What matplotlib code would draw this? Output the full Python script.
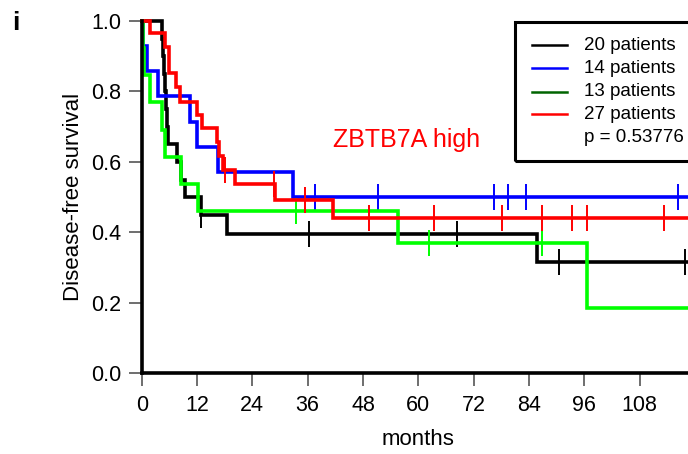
import matplotlib
matplotlib.use("Agg")
import matplotlib.pyplot as plt
from matplotlib.lines import Line2D
from matplotlib.patches import Rectangle

plt.rcParams['font.family'] = ['Liberation Sans', 'DejaVu Sans']

# survival steps (months, survival)
black_t = [0, 4.4, 4.6, 4.9, 5.1, 5.3, 5.5, 5.7, 7.6, 8.6, 9.4, 12.8, 18.5, 85.7]
black_s = [1.0, 0.95, 0.90, 0.85, 0.80, 0.75, 0.70, 0.65, 0.60, 0.55, 0.50, 0.45, 0.394, 0.315]
black_ct = [12.9, 36.3, 68.4, 90.5, 117.8]
black_cs = [0.45, 0.394, 0.394, 0.315, 0.315]

blue_t = [0, 0.3, 1.2, 3.5, 10.5, 11.9, 16.6, 32.9]
blue_s = [1.0, 0.929, 0.857, 0.786, 0.714, 0.643, 0.571, 0.5]
blue_ct = [37.7, 51.3, 76.5, 79.5, 83.3, 116.4]
blue_cs = [0.5, 0.5, 0.5, 0.5, 0.5, 0.5]

green_t = [0, 0.3, 0.6, 1.9, 4.4, 5.05, 8.6, 12.3, 55.7, 96.5]
green_s = [1.0, 0.923, 0.846, 0.769, 0.692, 0.615, 0.538, 0.4615, 0.369, 0.185]
green_ct = [33.5, 62.3, 86.9]
green_cs = [0.4615, 0.369, 0.369]

red_t = [0, 1.8, 5.05, 5.9, 7.4, 8.3, 11.9, 13.0, 16.3, 16.8, 17.7, 20.2, 29.0, 41.6]
red_s = [1.0, 0.965, 0.927, 0.852, 0.814, 0.771, 0.733, 0.695, 0.657, 0.617, 0.577, 0.537, 0.492, 0.442]
red_ct = [18.1, 28.8, 35.4, 49.2, 63.3, 78.1, 86.9, 93.3, 96.5, 113.4]
red_cs = [0.577, 0.537, 0.492, 0.442, 0.442, 0.442, 0.442, 0.442, 0.442, 0.442]

legend_labels = ["20 patients", "14 patients", "13 patients", "27 patients"]
legend_colors = ["black", "#0000ff", "#006400", "#ff0000"]
p_text = "p = 0.53776"

x_max = 120
x_ticks = [0, 12, 24, 36, 48, 60, 72, 84, 96, 108]
y_ticks = [0.0, 0.2, 0.4, 0.6, 0.8, 1.0]

W, H = 688, 454
fig = plt.figure(figsize=(W / 100, H / 100), dpi=100)

def fx(x):
    return x / W

def fy(y):
    return 1 - y / H

ax_l, ax_r, ax_b, ax_t = 141.7, 694.9, 373.3, 21.0
ax = fig.add_axes([fx(ax_l), fy(ax_b), (ax_r - ax_l) / W, (ax_b - ax_t) / H])

curves = [
    (black_t, black_s, black_ct, black_cs, "black"),
    (blue_t, blue_s, blue_ct, blue_cs, "#0000ff"),
    (green_t, green_s, green_ct, green_cs, "#00ff00"),
    (red_t, red_s, red_ct, red_cs, "#ff0000"),
]
for t, s, ct, cs, c in curves:
    ax.step(t + [x_max], s + [s[-1]], where="post", color=c, lw=2.6, clip_on=False,
            solid_joinstyle="miter")
    ax.plot(ct, cs, ls="none", marker="|", ms=19, mew=1.4, color=c, clip_on=False)

ax.set_xlim(0, x_max)
ax.set_ylim(0, 1)
for side in ["top", "right"]:
    ax.spines[side].set_visible(False)
for side in ["left", "bottom"]:
    ax.spines[side].set_linewidth(2.6)
    ax.spines[side].set_zorder(5)

ax.set_xticks(x_ticks)
ax.set_xticklabels([str(v) for v in x_ticks])
ax.set_yticks(y_ticks)
ax.set_yticklabels(["%.1f" % v for v in y_ticks])
ax.tick_params(axis="both", length=9.5, width=1.2, color="#555555", labelsize=15.5)
ax.tick_params(axis="y", pad=5)
ax.tick_params(axis="x", pad=6)

ax.set_xlabel("months", fontsize=16)
ax.xaxis.set_label_coords(0.5, -0.189)
ax.xaxis.label.set_va("center")
ax.set_ylabel("Disease-free survival", fontsize=16)
ax.yaxis.set_label_coords(-0.1224, 0.5)
ax.yaxis.label.set_va("center")

fig.text(fx(333), fy(146.7), "ZBTB7A high", color="#ff0000", fontsize=18, va="baseline", ha="left")
fig.text(fx(15.5), fy(23), "i", fontsize=19, fontweight="bold", ha="center", va="center")

# legend box drawn by hand, cut by the right edge like the original
fig.patches.append(Rectangle((fx(515), fy(160.7)), fx(700) - fx(515), fy(21.7) - fy(160.7),
                             transform=fig.transFigure, fill=False, lw=2.2, edgecolor="black"))
rows = [45, 68.3, 91.7, 114.3, 137.7]
for lab, col, ry in zip(legend_labels, legend_colors, rows):
    fig.lines.append(Line2D([fx(531.7), fx(566.7)], [fy(ry), fy(ry)], color=col, lw=1.8,
                            transform=fig.transFigure))
    fig.text(fx(584), fy(ry), lab, fontsize=13.5, va="center", ha="left")
fig.text(fx(584), fy(rows[4]), p_text, fontsize=13.5, va="center", ha="left")

fig.savefig("out.png", dpi=100)
